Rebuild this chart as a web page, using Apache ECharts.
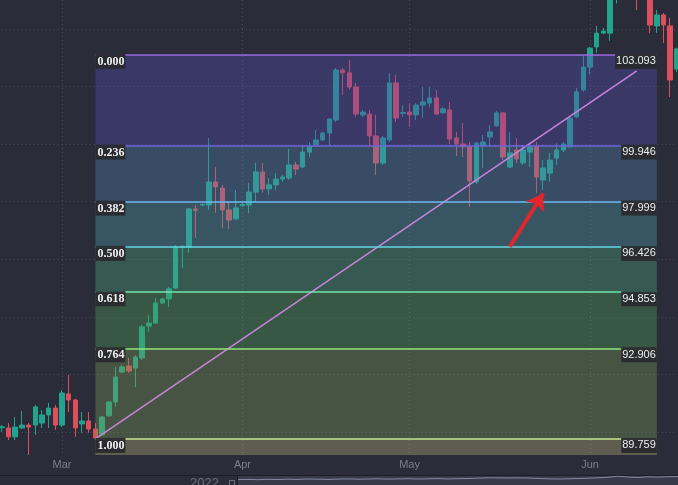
<!DOCTYPE html>
<html>
<head>
<meta charset="utf-8">
<title>Fibonacci retracement</title>
<script src="https://cdn.jsdelivr.net/npm/echarts@6/dist/echarts.min.js"></script>
<style>
  html, body { margin: 0; padding: 0; background: #2a2c39; }
  #chart { width: 678px; height: 485px; }
</style>
</head>
<body>
<div id="chart"></div>
<script>
// Daily candles (no Saturday sessions)
const dates = [
  '2022-02-18','2022-02-20','2022-02-21','2022-02-22','2022-02-23','2022-02-24','2022-02-25','2022-02-27','2022-02-28',
  '2022-03-01','2022-03-02','2022-03-03','2022-03-04','2022-03-06','2022-03-07','2022-03-08','2022-03-09','2022-03-10',
  '2022-03-11','2022-03-13','2022-03-14','2022-03-15','2022-03-16','2022-03-17','2022-03-18','2022-03-20','2022-03-21',
  '2022-03-22','2022-03-23','2022-03-24','2022-03-25','2022-03-27','2022-03-28','2022-03-29','2022-03-30','2022-03-31',
  '2022-04-01','2022-04-03','2022-04-04','2022-04-05','2022-04-06','2022-04-07','2022-04-08','2022-04-10','2022-04-11',
  '2022-04-12','2022-04-13','2022-04-14','2022-04-15','2022-04-17','2022-04-18','2022-04-19','2022-04-20','2022-04-21',
  '2022-04-22','2022-04-24','2022-04-25','2022-04-26','2022-04-27','2022-04-28','2022-04-29',
  '2022-05-01','2022-05-02','2022-05-03','2022-05-04','2022-05-05','2022-05-06','2022-05-08','2022-05-09','2022-05-10',
  '2022-05-11','2022-05-12','2022-05-13','2022-05-15','2022-05-16','2022-05-17','2022-05-18','2022-05-19','2022-05-20',
  '2022-05-22','2022-05-23','2022-05-24','2022-05-25','2022-05-26','2022-05-27','2022-05-29','2022-05-30','2022-05-31',
  '2022-06-01','2022-06-02','2022-06-03','2022-06-05','2022-06-06','2022-06-07','2022-06-08','2022-06-09','2022-06-10',
  '2022-06-12','2022-06-13','2022-06-14','2022-06-15','2022-06-16'
];

// [open, close, low, high]
const ohlc = [
  [90.15, 90.18, 90.00, 90.24], [90.14, 89.83, 89.72, 90.31], [89.83, 90.17, 89.72, 90.52],
  [90.14, 90.24, 90.10, 90.73], [90.24, 90.17, 89.20, 90.31], [90.24, 90.87, 89.90, 90.94],
  [90.31, 90.59, 90.14, 90.76], [90.59, 90.83, 90.14, 91.01], [90.83, 90.24, 90.07, 90.94],
  [90.24, 91.35, 90.17, 91.46], [91.32, 91.11, 90.69, 91.98], [91.11, 90.14, 89.83, 91.15],
  [90.28, 90.38, 89.97, 90.69], [90.38, 90.10, 89.97, 90.69], [90.10, 89.79, 89.759, 90.31],
  [89.90, 90.52, 89.86, 90.56], [90.56, 91.04, 90.52, 91.08], [91.04, 91.91, 90.87, 92.26],
  [92.08, 92.26, 92.05, 92.33], [92.29, 92.12, 92.05, 92.57], [92.22, 92.60, 91.56, 92.67],
  [92.57, 93.65, 92.50, 93.72], [93.68, 93.78, 93.47, 94.06], [93.78, 94.48, 93.76, 94.65],
  [94.48, 94.62, 94.44, 94.65], [94.62, 94.97, 94.34, 95.03], [95.00, 96.42, 94.97, 96.49],
  [96.40, 96.45, 95.69, 96.49], [96.42, 97.74, 96.22, 97.78], [97.74, 97.70, 96.74, 97.88],
  [97.88, 97.90, 97.84, 97.94], [97.88, 98.68, 97.71, 100.21], [98.68, 98.51, 97.60, 99.20],
  [98.47, 97.71, 97.08, 98.58], [97.71, 97.36, 97.05, 97.99], [97.40, 97.78, 97.36, 98.40],
  [97.86, 97.90, 97.82, 97.95], [97.88, 98.33, 97.60, 98.65], [98.33, 99.03, 97.99, 99.34],
  [99.03, 98.44, 98.30, 99.34], [98.44, 98.58, 98.23, 98.82], [98.58, 98.78, 98.40, 98.99],
  [98.78, 98.85, 98.68, 98.92], [98.82, 99.27, 98.75, 99.83], [99.27, 99.13, 98.92, 99.38],
  [99.20, 99.72, 99.17, 99.97], [99.72, 99.93, 99.55, 100.07], [99.97, 100.14, 99.90, 100.49],
  [100.14, 100.38, 100.10, 100.42], [100.38, 100.87, 99.93, 100.90], [100.83, 102.57, 100.76, 102.64],
  [102.57, 102.47, 101.70, 102.64], [102.47, 101.98, 101.88, 102.92], [101.98, 101.04, 100.94, 102.12],
  [101.01, 101.11, 100.94, 101.18], [101.04, 100.28, 99.90, 101.18], [100.28, 99.34, 98.92, 101.01],
  [99.34, 100.21, 99.27, 100.28], [100.14, 102.12, 100.07, 102.47], [102.12, 100.90, 100.76, 102.40],
  [101.06, 101.09, 100.94, 101.35], [101.11, 101.01, 100.59, 101.42], [101.01, 101.35, 100.83, 101.42],
  [101.35, 101.46, 100.90, 101.98], [101.42, 101.60, 101.28, 101.98], [101.60, 101.04, 101.01, 101.88],
  [101.08, 101.22, 101.04, 101.28], [101.18, 100.17, 100.00, 101.46], [100.21, 100.00, 99.58, 100.42],
  [100.00, 99.90, 99.55, 100.73], [99.90, 98.72, 97.81, 100.07], [98.68, 100.03, 98.61, 100.07],
  [99.93, 100.07, 99.17, 100.31], [100.24, 100.42, 99.90, 100.66], [100.63, 101.08, 100.59, 101.15],
  [101.08, 99.55, 99.44, 101.10], [99.20, 99.69, 99.17, 100.42], [99.79, 99.48, 99.34, 100.21],
  [99.34, 99.79, 99.27, 99.97], [99.72, 99.90, 99.20, 100.03], [99.90, 98.85, 98.30, 100.07],
  [98.75, 99.17, 98.40, 99.44], [98.99, 99.44, 98.68, 99.69], [99.51, 99.79, 99.27, 100.03],
  [99.79, 100.00, 99.72, 100.07], [99.90, 100.90, 99.88, 100.94], [100.94, 101.81, 100.90, 101.94],
  [101.88, 102.67, 101.81, 103.09], [102.67, 103.33, 102.40, 103.37], [103.37, 103.85, 103.16, 104.10],
  [103.85, 103.92, 103.82, 104.03], [103.85, 105.30, 103.58, 105.60], [105.30, 105.60, 104.88, 105.90],
  [105.60, 105.90, 105.30, 106.20], [105.90, 105.60, 105.20, 106.30], [105.60, 105.30, 104.65, 105.90],
  [105.30, 105.50, 105.05, 105.80], [105.50, 104.13, 103.85, 105.70], [104.10, 104.48, 103.85, 104.65],
  [104.48, 104.13, 103.51, 104.55], [104.10, 102.22, 101.63, 104.38], [102.60, 103.30, 102.50, 103.35]
];

// Fibonacci retracement levels (ratio label, price)
const fibRatios = ['0.000', '0.236', '0.382', '0.500', '0.618', '0.764', '1.000'];
const fibPrices = [103.093, 99.946, 97.999, 96.426, 94.853, 92.906, 89.759];
const fibStart = '2022-03-07';
const fibEnd = '2022-06-13';

// Trend line and the arrow pointing at the bounce candle
const trendLine = [['2022-03-07', 89.759], ['2022-06-09', 102.537]];
const arrowFrom = ['2022-05-18', 96.43];
const arrowTo = ['2022-05-24', 98.28];

// Horizontal price grid values
const priceGrid = [90, 92, 94, 96, 98, 100, 102, 104];

const monthNames = ['Jan', 'Feb', 'Mar', 'Apr', 'May', 'Jun', 'Jul', 'Aug', 'Sep', 'Oct', 'Nov', 'Dec'];

// Overview strip at the bottom
const navYear = '2022';
const navValues = [64, 66, 63, 67, 65, 68, 66, 70, 68, 66, 69, 71, 68, 70, 72, 69, 71, 73, 70, 72,
  74, 71, 73, 75, 78, 82, 81, 80, 81, 80, 76, 72, 70, 72, 75, 78, 82, 88, 98, 90, 86, 92, 89, 93, 95];

// ---- styling ----
const BG = '#2a2c39';
const GRID_LINE = '#4a4d5d';
const Y_MIN = 89.2;
const Y_MAX = 105;
const bandFills = [
  'rgba(87,78,183,0.37)', 'rgba(85,132,180,0.37)', 'rgba(82,158,170,0.37)',
  'rgba(77,168,126,0.37)', 'rgba(82,162,88,0.37)', 'rgba(125,155,85,0.37)', 'rgba(172,168,115,0.40)'
];
const levelColors = ['#9c6ade', '#6c64dc', '#6cb8ec', '#62d6e6', '#6fe6a8', '#8fe67a', '#c6e68e'];

function isMonthStart(index) {
  return index > 0 && dates[index].slice(5, 7) !== dates[index - 1].slice(5, 7);
}

// bands between consecutive levels, plus the zone below 1.000
const bandData = [];
for (let i = 0; i < fibPrices.length; i++) {
  const lower = i + 1 < fibPrices.length ? fibPrices[i + 1] : Y_MIN;
  bandData.push([
    { coord: [fibStart, fibPrices[i]], itemStyle: { color: bandFills[i] } },
    { coord: [fibEnd, lower] }
  ]);
}

const levelLeft = fibPrices.map((p, i) => [
  { name: fibRatios[i], coord: [fibStart, p], lineStyle: { color: levelColors[i] } },
  { coord: [fibEnd, p] }
]);
const levelRight = fibPrices.map((p, i) => [
  { name: p.toFixed(3), coord: [fibStart, p] },
  { coord: [fibEnd, p] }
]);

const chart = echarts.init(document.getElementById('chart'));
chart.setOption({
  animation: false,
  backgroundColor: BG,
  textStyle: { fontFamily: 'Liberation Sans' },
  grid: [
    { left: 1.85, right: 1.1, top: 0, height: 455 },
    { left: 238, right: 0, top: 476, height: 40, show: true, backgroundColor: '#383a4a', borderWidth: 0 }
  ],
  xAxis: [
    {
      type: 'category', data: dates, boundaryGap: false, gridIndex: 0,
      axisLine: { show: false }, axisTick: { show: false },
      axisLabel: {
        interval: (i) => isMonthStart(i),
        formatter: (v) => monthNames[parseInt(v.slice(5, 7), 10) - 1],
        color: '#7b7e8e', fontSize: 11, margin: 4
      },
      splitLine: { show: true, interval: (i) => isMonthStart(i), lineStyle: { color: GRID_LINE, type: [1, 3] } }
    },
    { type: 'category', data: navValues.map((_, i) => i), boundaryGap: false, gridIndex: 1, show: false }
  ],
  yAxis: [
    { type: 'value', min: Y_MIN, max: Y_MAX, gridIndex: 0, show: false, splitLine: { show: false } },
    { type: 'value', min: 0, max: 100, gridIndex: 1, show: false, splitLine: { show: false } }
  ],
  series: [
    {
      name: 'grid', type: 'line', data: [], z: 1, silent: true,
      markLine: {
        silent: true, symbol: ['none', 'none'], label: { show: false }, z: 1,
        lineStyle: { color: GRID_LINE, type: [1, 3], width: 1 },
        data: priceGrid.map(v => ({ yAxis: v }))
      }
    },
    {
      name: 'price', type: 'candlestick', data: ohlc, z: 2, barWidth: 5,
      itemStyle: { color: '#22a38e', color0: '#dc4f5b', borderColor: '#22a38e', borderColor0: '#dc4f5b', borderWidth: 1 }
    },
    {
      name: 'bands', type: 'line', data: [], silent: true,
      markArea: { silent: true, z: 3, label: { show: false }, data: bandData }
    },
    {
      name: 'trend', type: 'line', data: trendLine, z: 4, symbol: 'none', silent: true,
      lineStyle: { color: '#c884d9', width: 1.5 }
    },
    {
      name: 'levels', type: 'line', data: [], silent: true,
      markLine: {
        silent: true, z: 5, symbol: ['none', 'none'],
        lineStyle: { type: 'solid', width: 1.5 },
        label: {
          show: true, position: 'insideStartBottom', formatter: '{b}', distance: [0, -1],
          color: '#f0f0f0', fontFamily: 'Liberation Serif', fontWeight: 'bold', fontSize: 12,
          backgroundColor: 'rgba(42,43,47,0.96)', padding: [2, 1, 1, 2]
        },
        data: levelLeft
      }
    },
    {
      name: 'levelPrices', type: 'line', data: [], silent: true,
      markLine: {
        silent: true, z: 6, symbol: ['none', 'none'],
        lineStyle: { color: 'rgba(0,0,0,0)', width: 1, type: 'solid' },
        label: {
          show: true, position: 'insideEndBottom', formatter: '{b}', distance: [0, -1],
          color: '#eeeeee', fontFamily: 'Liberation Sans', fontSize: 11,
          backgroundColor: 'rgba(42,43,47,0.96)', padding: [2, 1, 2, 1]
        },
        data: levelRight
      }
    },
    {
      name: 'arrow', type: 'line', data: [], silent: true,
      markLine: {
        silent: true, z: 6, symbol: ['none', 'arrow'], symbolSize: 16,
        label: { show: false },
        lineStyle: { color: '#e3262b', width: 4, type: 'solid' },
        data: [[{ coord: arrowFrom }, { coord: arrowTo }]]
      }
    },
    {
      name: 'overview', type: 'line', xAxisIndex: 1, yAxisIndex: 1, data: navValues,
      symbol: 'none', silent: true, lineStyle: { color: '#858aa0', width: 1 }
    }
  ],
  graphic: [
    { type: 'line', silent: true, shape: { x1: 0, y1: 475.5, x2: 678, y2: 475.5 }, style: { stroke: '#1c1d26', lineWidth: 1 } },
    { type: 'line', silent: true, shape: { x1: 237.5, y1: 476, x2: 237.5, y2: 485 }, style: { stroke: '#1c1d26', lineWidth: 1 } },
    { type: 'text', silent: true, left: 190, top: 477, style: { text: navYear, fill: '#6c6f7e', font: '13px Liberation Sans' } },
    { type: 'rect', silent: true, shape: { x: 229.5, y: 480.5, width: 5, height: 6 }, style: { fill: 'none', stroke: '#6c6f7e', lineWidth: 1 } }
  ]
});
</script>
</body>
</html>
